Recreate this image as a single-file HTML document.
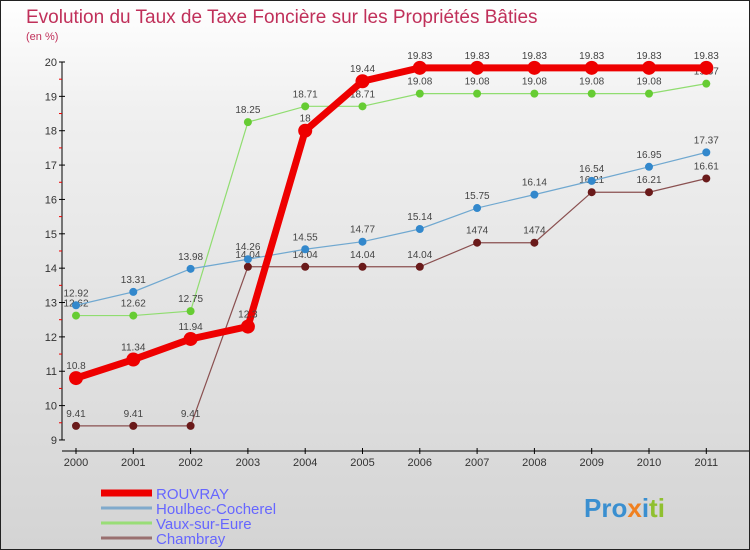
<!DOCTYPE html>
<html><head><meta charset="utf-8"><style>
body{margin:0}
#c{width:750px;height:550px;position:relative;box-sizing:border-box;border:1px solid #222;background:linear-gradient(#fff,#f0f0f0 20%,#d4d4d4);font-family:"Liberation Sans",sans-serif;overflow:hidden}
</style></head><body>
<div id="c">
<svg id="s" width="748" height="548" xmlns="http://www.w3.org/2000/svg" style="position:absolute;left:0;top:0">
<text x="25" y="22" font-size="19" fill="#c0305a">Evolution du Taux de Taxe Foncière sur les Propriétés Bâties</text>
<text x="25" y="39" font-size="11" fill="#c0305a">(en %)</text>
<g id="axes"></g><g id="series"></g><g id="legend"></g>
<text x="583" y="516" font-size="26" font-weight="bold" fill="#3a8fd0">Pro<tspan fill="#f08020">x</tspan><tspan fill="#3a8fd0">i</tspan><tspan fill="#90c030">ti</tspan></text>
</svg>
</div>
<script>
const years=[2000,2001,2002,2003,2004,2005,2006,2007,2008,2009,2010,2011];
const yTicks=[9,10,11,12,13,14,15,16,17,18,19,20];
const rouvray=[10.8,11.34,11.94,12.3,18,19.44,19.83,19.83,19.83,19.83,19.83,19.83];
const houlbec=[12.92,13.31,13.98,14.26,14.55,14.77,15.14,15.75,16.14,16.54,16.95,17.37];
const vaux=[12.62,12.62,12.75,18.25,18.71,18.71,19.08,19.08,19.08,19.08,19.08,19.37];
const chambray=[9.41,9.41,9.41,14.04,14.04,14.04,14.04,14.74,14.74,16.21,16.21,16.61];
const labRouvray=["10.8","11.34","11.94","12.3","18","19.44","19.83","19.83","19.83","19.83","19.83","19.83"];
const labChambray=["9.41","9.41","9.41","14.04","14.04","14.04","14.04","1474","1474","16.21","16.21","16.61"];
const NS="http://www.w3.org/2000/svg";
const X=i=>75+i*57.3;
const Y=v=>61+(20-v)*34.36;
function mk(p,t,a){const e=document.createElementNS(NS,t);for(const k in a)e.setAttribute(k,a[k]);p.appendChild(e);return e;}
const ax=document.getElementById('axes');
let l=mk(ax,'line',{x1:61,y1:Y(20),x2:61,y2:Y(9),stroke:'#000'});


l=mk(ax,'line',{x1:61,y1:450,x2:748,y2:450,stroke:'#000'});


yTicks.forEach(v=>{
 mk(ax,'line',{x1:58,y1:Y(v),x2:64,y2:Y(v),stroke:'#000'});
 if(v<20)mk(ax,'line',{x1:58,y1:Y(v+0.5),x2:61,y2:Y(v+0.5),stroke:'#e00'});
 const t=mk(ax,'text',{x:56,y:Y(v)+4,'font-size':11,fill:'#333','text-anchor':'end'});
 t.textContent=v;
 
 
});
years.forEach((yr,i)=>{
 mk(ax,'line',{x1:X(i),y1:447,x2:X(i),y2:453,stroke:'#000'});
 const t=mk(ax,'text',{x:X(i),y:465,'font-size':11,fill:'#333','text-anchor':'middle'});
 t.textContent=yr;
 
 
});
const sg=document.getElementById('series');
function series(name,vals,labels,color,dot,w,r){
 const g=mk(sg,'g',{});
 
 
 mk(g,'polyline',{points:vals.map((v,i)=>X(i)+','+Y(v)).join(' '),fill:'none',stroke:color,'stroke-width':w});
 vals.forEach((v,i)=>{
  const c=mk(g,'circle',{cx:X(i),cy:Y(v),r:r,fill:dot});
  
  
  const t=mk(g,'text',{x:X(i),y:Y(v)-9,'font-size':10,fill:'#444','text-anchor':'middle'});
  t.textContent=labels?labels[i]:String(v);
  
  
 });
}
series('chambray',chambray,labChambray,'#8a5050','#6a1a1a',1.2,4);
series('vaux',vaux,null,'#90dd70','#66cc33',1.2,4);
series('houlbec',houlbec,null,'#70a8d0','#3388cc',1.2,4);
series('rouvray',rouvray,labRouvray,'#ee0000','#ee0000',7,7);
const lg=document.getElementById('legend');
[['ROUVRAY','#ee0000',7],['Houlbec-Cocherel','#80aacc',3],['Vaux-sur-Eure','#99dd77',3],['Chambray','#997070',3]].forEach((e,i)=>{
 const y=492+i*15;
 const g=mk(lg,'g',{});
 
 
 mk(g,'line',{x1:100,y1:y,x2:151,y2:y,stroke:e[1],'stroke-width':e[2]});
 const t=mk(g,'text',{x:155,y:y+6,'font-size':15,fill:'#6666ff'});
 t.textContent=e[0];
});
</script>
</body></html>
